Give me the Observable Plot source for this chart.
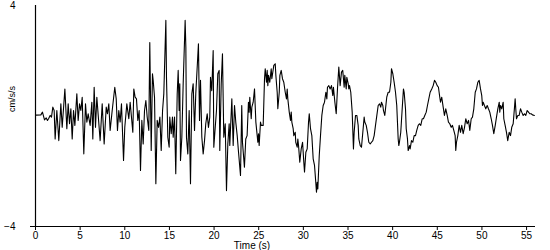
<!DOCTYPE html>
<html><head><meta charset="utf-8">
<script src="https://cdn.jsdelivr.net/npm/d3@7"></script>
<script src="https://cdn.jsdelivr.net/npm/@observablehq/plot@0.6"></script>
<style>html,body{margin:0;padding:0;background:#fff}svg{display:block}</style>
</head><body><div id="chart"></div>
<script>
const time = [
0,0.6,0.78,1.01,1.2,1.34,1.46,1.64,1.79,1.94,2.09,2.2,2.39,2.61,2.84,2.99,3.29,3.51,3.66,3.81,3.96,4.11,4.26,4.41,4.63,4.78,4.93,5.08,5.23,5.41,5.6,5.75,5.9,6.12,6.31,6.42,6.57,6.72,6.87,7.24,7.47,7.69,7.92,8.06,8.21,8.36,8.59,8.88,9.04,9.18,9.33,9.48,9.63,9.86,10.0,10.23,10.45,10.6,10.9,
11.01,11.16,11.31,11.46,11.61,11.76,11.91,12.06,12.21,12.36,12.51,12.69,12.8,12.96,13.1,13.18,13.33,13.48,13.63,13.78,13.93,14.08,14.23,14.37,14.6,14.67,14.82,14.97,15.04,15.2,15.34,15.42,15.57,15.71,15.87,15.98,16.09,16.16,16.24,16.39,16.54,16.76,16.84,16.91,17.06,17.21,17.36,17.51,17.66,17.81,17.95,18.25,18.37,18.48,18.63,18.78,18.93,19.07,19.23,19.37,19.52,19.6,19.74,19.9,19.97,20.13,20.27,20.42,20.57,20.64,20.8,20.94,21.09,21.25,21.39,21.54,21.69,
21.76,21.99,22.14,22.29,22.43,22.59,22.74,22.96,23.1,23.18,23.4,23.55,23.7,23.85,23.93,24.0,24.16,24.23,24.38,24.53,24.68,24.83,24.9,24.98,25.05,25.2,25.28,25.5,25.65,25.73,25.87,25.95,26.02,26.1,26.24,26.4,26.47,26.69,26.85,26.92,27.07,27.14,27.3,27.37,27.52,27.66,27.81,27.97,28.11,28.19,28.26,28.42,28.56,28.64,28.71,28.86,28.93,29.09,29.15,29.31,29.38,29.46,29.6,29.76,29.91,30.05,30.13,30.28,30.43,30.58,30.66,30.8,30.95,31.1,31.25,31.39,31.47,31.55,31.62,31.78,31.92,32.07,32.22,32.37,32.52,
32.63,32.7,32.85,33.0,33.15,33.3,33.37,33.53,33.68,33.82,33.97,34.12,34.27,34.41,34.57,34.64,34.8,34.87,35.02,35.09,35.17,35.31,35.47,35.61,35.69,35.84,35.99,36.14,36.21,36.37,36.51,36.66,36.81,36.88,37.04,37.18,37.33,37.49,37.63,37.78,37.93,38.08,38.23,38.38,38.53,38.67,38.75,38.9,38.97,39.12,39.2,39.34,39.5,39.65,39.8,39.87,40.02,40.17,40.32,40.46,40.54,40.62,40.69,40.76,40.91,41.07,41.21,41.29,41.44,41.52,41.66,41.74,41.89,41.96,42.11,42.26,42.41,42.56,42.7,42.86,43.0,43.15,43.31,43.45,43.6,43.76,43.9,44.05,44.2,
44.38,44.54,44.69,44.83,44.99,45.13,45.28,45.36,45.5,45.66,45.8,45.95,46.11,46.25,46.4,46.56,46.7,46.85,47.0,47.07,47.15,47.3,47.45,47.6,47.74,47.9,48.05,48.19,48.35,48.5,48.64,48.8,48.94,49.09,49.25,49.39,49.54,49.69,49.84,49.98,50.06,50.14,50.28,50.43,50.59,50.73,50.88,51.04,51.18,51.33,51.49,51.63,51.78,51.94,52.0,52.08,52.22,52.38,52.45,52.6,52.75,52.89,53.05,53.2,53.34,53.5,53.65,53.72,53.79,53.87,54.02,54.17,54.32,54.46,54.62,54.77,54.91,55.07,55.22,55.36,55.51,55.66,55.88
];
const accel = [
0.03,0.04,0.14,-0.14,-0.07,-0.16,-0.10,0.02,-0.04,0.32,0.2,-0.83,0.2,-0.89,0.44,-0.41,0.98,-0.46,0.44,-0.28,0.26,-0.83,0.2,-0.34,0.8,-0.16,0.44,0.2,0.68,-1.37,0.44,-0.22,0.08,-0.34,0.5,-0.83,1.04,-0.41,0.68,-0.89,0.44,-1.01,0.32,0.08,0.44,-0.52,0.2,1.04,0.62,-0.52,0.2,-0.22,0.44,-1.61,-0.41,0.44,-0.1,0.5,-0.59,
0.98,0.68,0.62,-0.16,0.2,-1.97,-0.16,-1.01,0.2,0.56,-0.04,-0.52,2.66,-1.25,1.53,1.29,0.68,-2.45,-0.16,-0.41,-0.04,-1.25,0.2,0.8,3.46,1.4,-0.77,-1.13,-0.04,-0.64,-0.04,-0.77,-0.04,-2.09,0.8,1.65,0.2,1.17,-1.61,-0.77,1.17,3.46,2.49,-0.77,-1.37,0.2,-2.45,0.8,1.17,-0.52,0.8,2.61,-0.16,1.29,-0.77,-1.37,-0.89,-0.28,0.08,-0.41,-0.04,1.4,0.92,2.37,-1.13,-0.41,0.2,1.53,1.65,-1.25,1.17,2.25,-0.77,-0.28,-2.7,-1.01,-0.28,
-1.07,0.62,-1.07,0.38,-0.22,-0.71,-1.31,-2.15,0.38,-0.95,-1.85,-0.83,-0.71,0.5,0.14,0.68,-0.1,0.32,0.5,0.98,-0.22,-0.71,-0.95,-0.64,-1.07,-0.22,-0.34,-0.34,1.35,1.71,1.22,1.65,1.1,1.47,1.22,1.71,1.35,1.83,1.89,1.47,0.86,0.26,0.86,1.47,1.65,1.35,1.22,0.86,0.62,0.98,0.62,0.14,-0.16,0.14,-0.22,-0.46,-0.71,-0.59,-0.95,-1.13,-0.83,-1.07,-1.67,-1.19,-0.95,-1.67,-2.03,-1.31,-1.19,-0.22,0.08,-0.46,-0.71,-1.55,-1.79,-2.4,-2.76,-2.4,-2.64,-1.43,-0.71,0.02,0.38,0.5,0.86,
0.62,1.04,1.1,0.98,1.1,0.74,1.04,0.5,0.08,0.98,1.77,1.1,1.59,1.65,1.04,1.47,0.98,1.4,1.17,0.98,1.1,0.86,0.14,-1.19,-0.59,0.02,0.02,-0.34,-0.83,-1.07,-1.13,-0.59,-0.04,-0.22,-0.34,-0.59,-0.95,-1.01,-0.95,-0.89,-0.71,-0.34,0.02,0.38,0.44,0.32,0.5,0.38,0.2,0.02,0.26,0.68,0.86,0.86,1.22,1.71,1.53,1.22,0.86,0.38,-0.22,-0.83,-1.07,-0.95,-0.59,0.26,0.98,0.86,0.26,-0.46,-0.83,-1.25,-1.07,-1.19,-0.89,-0.95,-0.71,-0.71,-0.52,-0.34,-0.28,-0.34,-0.1,-0.1,0.02,0.14,0.38,0.62,0.86,
0.98,1.1,1.29,1.22,1.1,1.04,0.68,0.5,0.68,0.32,0.02,0.26,0.02,-0.22,-0.28,-0.41,-0.34,-0.52,-0.71,-1.25,-0.95,-0.71,-0.34,-0.59,-0.34,-0.64,-0.41,-0.1,-0.28,-0.16,-0.52,-0.1,-0.04,0.26,0.86,0.98,1.22,1.29,0.98,0.74,0.38,0.5,0.38,0.26,0.38,0.26,0.14,-0.1,-0.34,-0.64,-0.34,-0.04,0.26,0.5,0.14,0.38,0.26,0.5,-0.1,-0.34,-0.59,-0.89,-0.59,-0.71,-0.41,-0.28,0.32,0.62,0.26,-0.1,0.02,0.02,0.26,0.14,0.02,0.08,0.02,0.2,0.14,0.08,0.08,0.04,0.02
];
const xTicks = [0,5,10,15,20,25,30,35,40,45,50,55];
const yTicks = [-4,4];
const xLabel = "Time (s)";
const yLabel = "cm/s/s";

const data = time.map((t, i) => ({t, a: accel[i]}));

const chart = Plot.plot({
  width: 550, height: 250,
  marginLeft: 30, marginRight: 15, marginTop: 5, marginBottom: 24,
  style: {fontFamily: "'Liberation Sans', Arial, sans-serif", fontSize: "10px", background: "white", color: "black"},
  x: {domain: [-0.56, 56], ticks: xTicks, tickSize: 4, tickPadding: 1, label: null},
  y: {domain: [-4, 4], ticks: yTicks, tickSize: 0, tickPadding: 15, label: null},
  marks: [
    Plot.ruleY([-4], {stroke: "black", strokeWidth: 1.2}),
    Plot.ruleX([0], {y1: -4, y2: 4, stroke: "black", strokeWidth: 1.2}),
    Plot.line(data, {x: "t", y: "a", stroke: "black", strokeWidth: 1.1}),
    Plot.text([xLabel], {frameAnchor: "bottom", dx: -31, dy: 15.5, lineAnchor: "top", fontSize: 10, fill: "black"}),
    Plot.text([yLabel], {frameAnchor: "left", dx: -18.5, dy: -4, rotate: -90, fontSize: 9, fill: "black"})
  ]
});
document.getElementById("chart").append(chart);
</script>
</body></html>
